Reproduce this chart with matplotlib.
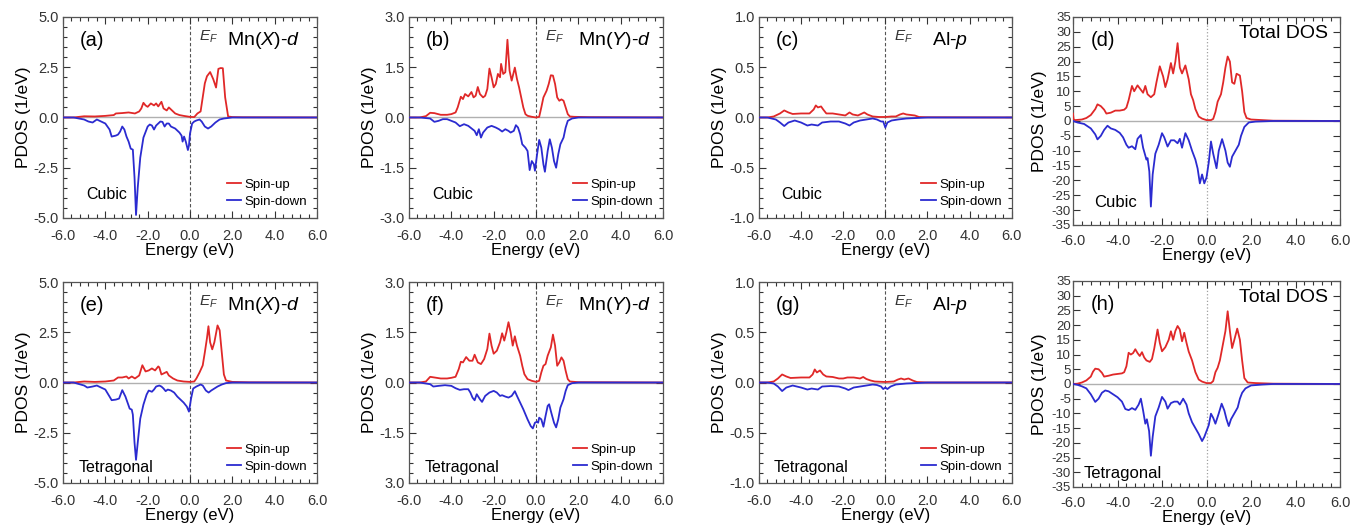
import matplotlib
matplotlib.use("Agg")
import matplotlib.pyplot as plt
from matplotlib.ticker import MultipleLocator

plt.rcParams['font.family'] = ['Liberation Sans', 'DejaVu Sans']
plt.rcParams['mathtext.fontset'] = 'custom'
plt.rcParams['mathtext.rm'] = 'Liberation Sans'
plt.rcParams['mathtext.it'] = 'Liberation Sans:italic'

RED = '#e02828'
BLUE = '#2b2bd0'

# ---- (a) Mn(X)-d, cubic ----
a_up_E = [-6.0, -5.5, -5.0, -4.5, -4.0, -3.6, -3.5, -3.2, -2.9, -2.6, -2.4, -2.3, -2.2, -2.1, -2.0, -1.85, -1.7, -1.6,
          -1.5, -1.35, -1.25, -1.1, -1.0, -0.85, -0.7, -0.5, -0.3, 0.0, 0.2, 0.35, 0.5, 0.6, 0.7, 0.8, 0.95, 1.1,
          1.23, 1.34, 1.45, 1.55, 1.66, 1.8, 2.0, 2.5, 6.0]
a_up = [0.0, 0.0, 0.06, 0.05, 0.08, 0.12, 0.2, 0.22, 0.25, 0.2, 0.3, 0.45, 0.73, 0.6, 0.53, 0.7, 0.6, 0.7,
        0.55, 0.78, 0.45, 0.35, 0.5, 0.35, 0.2, 0.12, 0.08, 0.03, 0.02, 0.2, 0.3, 1.0, 1.7, 2.05, 2.26, 1.9,
        1.49, 2.42, 2.46, 2.45, 1.0, 0.05, 0.02, 0.01, 0.0]
a_dn_E = [-6.0, -5.5, -5.0, -4.8, -4.6, -4.4, -4.2, -4.0, -3.8, -3.7, -3.5, -3.4, -3.3, -3.2, -3.1, -3.0, -2.9, -2.8,
          -2.7, -2.62, -2.55, -2.47, -2.35, -2.2, -2.0, -1.9, -1.8, -1.7, -1.6, -1.5, -1.4, -1.3, -1.2, -1.1, -1.0,
          -0.9, -0.8, -0.7, -0.6, -0.5, -0.4, -0.35, -0.28, -0.2, -0.1, -0.05, 0.0, 0.1, 0.2, 0.3, 0.45, 0.55,
          0.7, 0.85, 1.0, 1.1, 1.2, 1.4, 1.6, 2.0, 6.0]
a_dn = [0.0, 0.0, -0.1, -0.2, -0.25, -0.1, -0.2, -0.3, -0.6, -0.95, -0.9, -0.85, -0.7, -0.45, -0.6, -0.95, -1.2, -1.55,
        -1.6, -3.0, -4.85, -3.5, -2.0, -1.0, -0.45, -0.35, -0.4, -0.6, -0.4, -0.3, -0.2, -0.22, -0.45, -0.3, -0.3,
        -0.45, -0.5, -0.55, -0.65, -0.75, -0.9, -1.2, -0.95, -1.2, -1.62, -1.4, -0.8, -0.3, -0.2, -0.15, -0.1, -0.2,
        -0.45, -0.55, -0.45, -0.35, -0.25, -0.1, -0.05, 0.0, 0.0]

# ---- (b) Mn(Y)-d, cubic ----
b_up_E = [-6.0, -5.5, -5.2, -5.0, -4.8, -4.5, -4.2, -4.0, -3.8, -3.7, -3.55, -3.45, -3.35, -3.2, -3.05, -2.95, -2.85,
          -2.75, -2.65, -2.5, -2.4, -2.3, -2.2, -2.1, -2.0, -1.9, -1.8, -1.7, -1.65, -1.55, -1.45, -1.35, -1.25,
          -1.15, -1.0, -0.9, -0.8, -0.7, -0.6, -0.5, -0.4, -0.2, 0.0, 0.15, 0.25, 0.35, 0.5, 0.6, 0.7, 0.8, 0.9,
          1.0, 1.1, 1.2, 1.3, 1.4, 1.5, 1.6, 1.8, 2.5, 6.0]
b_up = [0.0, 0.0, 0.04, 0.14, 0.13, 0.08, 0.08, 0.1, 0.15, 0.3, 0.62, 0.55, 0.7, 0.63, 0.76, 0.6, 0.65,
        0.91, 0.7, 0.6, 0.65, 0.85, 1.46, 1.2, 0.9, 1.0, 1.3, 1.2, 1.6, 1.3, 1.35, 2.32, 1.4,
        1.1, 1.49, 1.15, 0.9, 0.6, 0.3, 0.1, 0.05, 0.02, 0.0, 0.02, 0.3, 0.6, 0.8, 1.0, 1.26, 1.25, 1.0,
        0.6, 0.5, 0.54, 0.5, 0.3, 0.1, 0.03, 0.02, 0.01, 0.0]
b_dn_E = [-6.0, -5.5, -5.0, -4.8, -4.6, -4.4, -4.2, -4.0, -3.8, -3.6, -3.4, -3.2, -3.0, -2.9, -2.8, -2.7, -2.6, -2.5,
          -2.3, -2.1, -1.9, -1.75, -1.6, -1.45, -1.3, -1.2, -1.05, -0.95, -0.85, -0.75, -0.65, -0.5, -0.4, -0.3,
          -0.2, -0.1, -0.05, 0.05, 0.15, 0.25, 0.35, 0.42, 0.55, 0.65, 0.75, 0.85, 0.95, 1.05, 1.15, 1.3, 1.4,
          1.5, 1.7, 2.0, 6.0]
b_dn = [0.0, 0.0, -0.03, -0.13, -0.1, -0.05, -0.05, -0.1, -0.15, -0.26, -0.2, -0.25, -0.35, -0.4, -0.53, -0.35, -0.6, -0.45,
        -0.3, -0.25, -0.3, -0.35, -0.42, -0.35, -0.4, -0.45, -0.4, -0.23, -0.3, -0.5, -0.8, -0.9, -1.0, -1.57,
        -1.3, -1.4, -1.59, -1.1, -0.67, -0.9, -1.4, -1.62, -1.0, -0.65, -0.9, -1.3, -1.5, -1.1, -0.8, -0.6, -0.3,
        -0.1, -0.03, 0.0, 0.0]

# ---- (c) Al-p, cubic ----
c_up_E = [-6.0, -5.6, -5.3, -5.0, -4.8, -4.6, -4.4, -4.0, -3.6, -3.4, -3.3, -3.2, -3.05, -2.95, -2.8, -2.5, -2.2, -1.9,
          -1.7, -1.55, -1.3, -1.0, -0.85, -0.6, -0.3, 0.0, 0.3, 0.5, 0.7, 0.85, 1.0, 1.2, 1.4, 1.6, 2.0, 6.0]
c_up = [0.0, 0.0, 0.01, 0.04, 0.07, 0.05, 0.035, 0.04, 0.04, 0.08, 0.12, 0.1, 0.11, 0.08, 0.04, 0.04, 0.03, 0.02,
        0.05, 0.03, 0.02, 0.05, 0.03, 0.01, 0.005, 0.005, 0.01, 0.01, 0.03, 0.04, 0.03, 0.025, 0.02, 0.005, 0.002, 0.0]
c_dn_E = [-6.0, -5.6, -5.2, -5.0, -4.8, -4.6, -4.3, -4.0, -3.7, -3.5, -3.2, -3.0, -2.6, -2.2, -1.9, -1.7, -1.5, -1.2,
          -0.9, -0.6, -0.4, -0.2, -0.1, 0.0, 0.1, 0.3, 0.6, 1.0, 1.5, 2.0, 6.0]
c_dn = [0.0, 0.0, -0.02, -0.05, -0.085, -0.05, -0.03, -0.05, -0.08, -0.07, -0.08, -0.05, -0.04, -0.04, -0.06, -0.08, -0.05, -0.03,
        -0.02, -0.01, -0.02, -0.04, -0.04, -0.1, -0.05, -0.03, -0.02, -0.01, -0.005, 0.0, 0.0]

# ---- (d) total DOS, cubic ----
d_up_E = [-6.0, -5.97, -5.9, -5.6, -5.4, -5.2, -5.0, -4.9, -4.75, -4.6, -4.5, -4.3, -4.1, -3.9, -3.7, -3.6, -3.5, -3.35,
          -3.25, -3.1, -2.95, -2.85, -2.75, -2.65, -2.5, -2.35, -2.25, -2.1, -1.95, -1.85, -1.75, -1.6, -1.5, -1.4,
          -1.3, -1.2, -1.1, -0.95, -0.8, -0.7, -0.6, -0.5, -0.35, -0.2, 0.0, 0.2, 0.3, 0.4, 0.5, 0.65, 0.75, 0.85,
          0.95, 1.05, 1.15, 1.25, 1.35, 1.5, 1.6, 1.7, 1.8, 2.0, 2.5, 3.0, 6.0]
d_up = [2.5, 0.5, 0.3, 0.5, 1.0, 2.0, 4.0, 5.6, 5.0, 3.8, 2.5, 2.8, 3.5, 3.5, 3.8, 4.5, 7.0, 11.8,
        10.0, 12.0, 10.5, 9.5, 11.8, 9.0, 8.0, 9.0, 13.0, 18.4, 15.0, 11.4, 14.0, 19.5, 16.0, 20.0,
        26.2, 18.0, 16.0, 18.7, 14.0, 9.0, 7.0, 4.0, 1.5, 0.8, 0.3, 0.3, 0.7, 3.0, 6.5, 9.0, 13.0, 18.0,
        21.7, 20.0, 13.0, 12.5, 15.9, 15.3, 10.0, 3.0, 1.0, 0.5, 0.3, 0.1, 0.0]
d_dn_E = [-6.0, -5.8, -5.5, -5.2, -5.0, -4.9, -4.75, -4.6, -4.45, -4.3, -4.1, -3.9, -3.75, -3.6, -3.5, -3.35, -3.2,
          -3.1, -2.95, -2.85, -2.7, -2.65, -2.57, -2.5, -2.42, -2.3, -2.15, -2.0, -1.9, -1.75, -1.6, -1.45, -1.3,
          -1.2, -1.1, -0.95, -0.8, -0.65, -0.5, -0.4, -0.3, -0.2, -0.1, 0.0, 0.1, 0.2, 0.3, 0.45, 0.55, 0.7, 0.85,
          0.95, 1.05, 1.15, 1.3, 1.45, 1.55, 1.7, 1.9, 2.2, 3.0, 6.0]
d_dn = [0.0, -0.5, -1.0, -2.5, -4.5, -6.2, -5.0, -3.0, -1.6, -2.5, -3.0, -4.0, -5.5, -8.0, -9.0, -8.5, -9.5,
        -6.0, -4.7, -9.0, -13.0, -12.5, -17.0, -28.8, -18.0, -11.0, -8.0, -4.1, -5.5, -8.6, -6.5, -6.5, -7.5,
        -6.0, -9.0, -4.1, -6.5, -10.0, -13.0, -16.0, -21.0, -18.0, -21.0, -19.0, -14.0, -6.9, -11.0, -15.9, -10.0, -6.1, -10.0,
        -14.0, -15.4, -12.0, -10.0, -8.0, -5.0, -2.0, -0.5, -0.2, 0.0, 0.0]

# ---- (e) Mn(X)-d, tetragonal ----
e_up_E = [-6.0, -5.5, -5.0, -4.5, -4.0, -3.6, -3.4, -3.2, -3.0, -2.9, -2.75, -2.6, -2.4, -2.25, -2.1, -1.95, -1.8,
          -1.65, -1.5, -1.45, -1.35, -1.25, -1.1, -1.0, -0.8, -0.6, -0.3, 0.0, 0.2, 0.3, 0.45, 0.6, 0.7, 0.8, 0.87,
          0.95, 1.05, 1.15, 1.3, 1.4, 1.5, 1.6, 1.7, 2.0, 2.8, 6.0]
e_up = [0.0, 0.0, 0.05, 0.03, 0.05, 0.1, 0.25, 0.25, 0.3, 0.2, 0.3, 0.2, 0.35, 0.86, 0.55, 0.6, 0.7,
        0.6, 0.8, 0.75, 0.4, 0.45, 0.53, 0.35, 0.2, 0.1, 0.05, 0.03, 0.05, 0.2, 0.5, 0.85, 1.5, 2.2, 2.8,
        2.0, 1.65, 2.0, 2.84, 2.6, 1.5, 0.4, 0.1, 0.03, 0.01, 0.0]
e_dn_E = [-6.0, -5.5, -5.0, -4.85, -4.6, -4.4, -4.2, -4.0, -3.8, -3.7, -3.5, -3.35, -3.2, -3.05, -2.95, -2.85, -2.75,
          -2.7, -2.62, -2.55, -2.47, -2.35, -2.2, -2.05, -1.95, -1.8, -1.7, -1.6, -1.45, -1.35, -1.25, -1.15, -1.05,
          -0.9, -0.75, -0.6, -0.45, -0.3, -0.15, -0.05, 0.05, 0.15, 0.3, 0.5, 0.6, 0.75, 0.88, 1.0, 1.15, 1.3,
          1.5, 1.7, 2.0, 6.0]
e_dn = [0.0, 0.0, -0.15, -0.25, -0.2, -0.15, -0.25, -0.35, -0.7, -0.88, -0.85, -0.8, -0.38, -0.7, -1.0, -1.3, -1.35,
        -1.6, -3.0, -3.85, -3.0, -1.8, -1.1, -0.6, -0.4, -0.46, -0.35, -0.2, -0.15, -0.2, -0.3, -0.43, -0.35,
        -0.4, -0.5, -0.7, -0.85, -1.0, -1.2, -1.45, -0.8, -0.3, -0.2, -0.1, -0.15, -0.4, -0.5, -0.4, -0.3, -0.2,
        -0.1, -0.03, 0.0, 0.0]

# ---- (f) Mn(Y)-d, tetragonal ----
f_up_E = [-6.0, -5.5, -5.2, -5.0, -4.8, -4.5, -4.2, -4.0, -3.8, -3.65, -3.55, -3.45, -3.3, -3.15, -3.0, -2.9, -2.75,
          -2.6, -2.45, -2.3, -2.2, -2.1, -2.0, -1.85, -1.7, -1.6, -1.5, -1.4, -1.3, -1.2, -1.1, -1.0, -0.9, -0.75,
          -0.65, -0.55, -0.4, -0.2, 0.0, 0.15, 0.25, 0.35, 0.45, 0.55, 0.7, 0.8, 0.9, 1.0, 1.1, 1.2, 1.3, 1.4,
          1.5, 1.6, 2.0, 6.0]
f_up = [0.0, 0.0, 0.03, 0.17, 0.15, 0.12, 0.12, 0.14, 0.17, 0.4, 0.62, 0.6, 0.76, 0.65, 0.65, 0.83, 0.6,
        0.55, 0.7, 1.0, 1.46, 1.1, 0.86, 0.95, 1.2, 1.47, 1.25, 1.5, 1.8, 1.5, 1.1, 1.38, 1.1, 0.8,
        0.5, 0.25, 0.1, 0.05, 0.02, 0.05, 0.3, 0.5, 0.55, 0.8, 1.05, 1.43, 1.1, 0.5, 0.6, 0.75, 0.65, 0.35,
        0.1, 0.03, 0.01, 0.0]
f_dn_E = [-6.0, -5.5, -5.0, -4.85, -4.6, -4.3, -4.0, -3.8, -3.6, -3.4, -3.2, -3.1, -3.0, -2.9, -2.8, -2.65, -2.55,
          -2.4, -2.2, -2.0, -1.85, -1.7, -1.6, -1.45, -1.3, -1.15, -1.0, -0.9, -0.75, -0.6, -0.5, -0.4, -0.25,
          -0.15, -0.05, 0.05, 0.1, 0.15, 0.25, 0.35, 0.45, 0.55, 0.62, 0.72, 0.85, 0.95, 1.05, 1.15, 1.3, 1.4,
          1.5, 1.7, 2.0, 6.0]
f_dn = [0.0, 0.0, -0.05, -0.12, -0.1, -0.08, -0.1, -0.17, -0.22, -0.2, -0.2, -0.3, -0.45, -0.53, -0.35, -0.5, -0.58,
        -0.4, -0.3, -0.25, -0.3, -0.4, -0.38, -0.42, -0.45, -0.4, -0.26, -0.4, -0.6, -0.8, -0.95, -1.1, -1.3,
        -1.37, -1.2, -1.17, -1.2, -1.05, -1.1, -1.32, -1.0, -0.7, -0.65, -0.9, -1.2, -1.34, -1.1, -0.75, -0.5, -0.25,
        -0.08, -0.02, 0.0, 0.0]

# ---- (g) Al-p, tetragonal ----
g_up_E = [-6.0, -5.6, -5.3, -5.1, -4.9, -4.7, -4.5, -4.0, -3.6, -3.45, -3.35, -3.25, -3.1, -2.95, -2.8, -2.5, -2.2,
          -2.0, -1.8, -1.5, -1.2, -1.05, -0.9, -0.7, -0.5, 0.0, 0.4, 0.6, 0.75, 0.9, 1.1, 1.3, 1.5, 2.0, 6.0]
g_up = [0.0, 0.0, 0.01, 0.04, 0.08, 0.06, 0.045, 0.05, 0.05, 0.08, 0.13, 0.1, 0.12, 0.08, 0.06, 0.055, 0.04,
        0.04, 0.05, 0.05, 0.04, 0.055, 0.035, 0.02, 0.01, 0.005, 0.01, 0.03, 0.04, 0.03, 0.04, 0.02, 0.005, 0.0, 0.0]
g_dn_E = [-6.0, -5.6, -5.3, -5.1, -4.9, -4.7, -4.4, -4.0, -3.7, -3.5, -3.2, -3.0, -2.6, -2.2, -1.9, -1.75, -1.5, -1.2,
          -0.9, -0.6, -0.4, -0.2, -0.1, 0.0, 0.1, 0.25, 0.5, 1.0, 1.5, 2.0, 6.0]
g_dn = [0.0, 0.0, -0.01, -0.04, -0.085, -0.05, -0.03, -0.05, -0.07, -0.06, -0.07, -0.04, -0.035, -0.04, -0.06, -0.075, -0.05, -0.04,
        -0.03, -0.02, -0.025, -0.04, -0.065, -0.05, -0.065, -0.04, -0.02, -0.01, -0.005, 0.0, 0.0]

# ---- (h) total DOS, tetragonal ----
h_up_E = [-6.0, -5.8, -5.6, -5.4, -5.2, -5.1, -5.0, -4.85, -4.7, -4.6, -4.4, -4.2, -4.0, -3.8, -3.7, -3.6, -3.5, -3.4,
          -3.3, -3.2, -3.1, -3.0, -2.9, -2.8, -2.7, -2.55, -2.45, -2.35, -2.2, -2.1, -2.0, -1.85, -1.7, -1.6, -1.5,
          -1.4, -1.3, -1.2, -1.1, -1.0, -0.9, -0.8, -0.65, -0.5, -0.35, -0.2, 0.0, 0.2, 0.3, 0.4, 0.5, 0.6, 0.7,
          0.85, 0.95, 1.05, 1.15, 1.25, 1.38, 1.5, 1.6, 1.7, 1.85, 2.2, 3.0, 6.0]
h_up = [0.0, 0.1, 0.5, 1.2, 2.5, 4.2, 5.2, 5.0, 3.8, 2.5, 2.8, 3.2, 3.4, 3.6, 4.0, 6.0, 10.6, 10.0,
        10.5, 11.8, 10.5, 9.5, 10.8, 9.0, 8.0, 7.5, 8.5, 12.0, 18.5, 14.0, 11.1, 12.5, 15.0, 17.9, 15.0,
        18.0, 19.7, 18.5, 14.5, 17.4, 14.0, 11.0, 8.0, 4.0, 1.5, 0.8, 0.3, 0.3, 1.0, 4.0, 5.5, 8.0, 12.0,
        18.0, 24.7, 18.0, 12.2, 15.0, 18.8, 15.0, 8.0, 2.0, 0.5, 0.3, 0.1, 0.0]
h_dn_E = [-6.0, -5.8, -5.6, -5.4, -5.2, -5.0, -4.85, -4.7, -4.55, -4.4, -4.2, -4.0, -3.8, -3.65, -3.5, -3.35, -3.2,
          -3.05, -2.95, -2.85, -2.75, -2.68, -2.58, -2.5, -2.42, -2.3, -2.15, -2.0, -1.85, -1.75, -1.6, -1.45, -1.3,
          -1.2, -1.05, -0.9, -0.8, -0.65, -0.5, -0.35, -0.2, -0.1, 0.0, 0.1, 0.2, 0.3, 0.4, 0.55, 0.68, 0.8, 0.9,
          1.0, 1.1, 1.25, 1.4, 1.5, 1.6, 1.75, 2.0, 2.5, 3.0, 6.0]
h_dn = [0.0, -0.3, -0.8, -1.5, -3.5, -6.1, -5.0, -3.0, -2.2, -2.5, -3.5, -4.5, -6.0, -8.5, -8.9, -8.2, -8.8,
        -7.0, -5.0, -9.0, -13.5, -12.0, -16.0, -24.4, -18.0, -11.0, -8.0, -4.4, -6.0, -8.4, -6.5, -6.0, -6.0,
        -7.0, -5.0, -7.0, -10.0, -13.0, -15.0, -17.0, -19.4, -18.0, -16.0, -14.0, -10.1, -11.5, -13.5, -10.0, -6.7, -9.0, -12.0,
        -14.3, -12.0, -10.0, -8.0, -5.0, -3.0, -1.5, -0.5, -0.2, 0.0, 0.0]

panel_labels = ['(a)', '(b)', '(c)', '(d)', '(e)', '(f)', '(g)', '(h)']
orbital_labels = [r'Mn($\mathit{X}$)-$\mathit{d}$', r'Mn($\mathit{Y}$)-$\mathit{d}$', r'Al-$\mathit{p}$', 'Total DOS']
phase_labels = ['Cubic', 'Tetragonal']
y_limits = [(-5.0, 5.0), (-3.0, 3.0), (-1.0, 1.0), (-35, 35)]
y_majors = [2.5, 1.5, 0.5, 5]
y_minors = [0.5, 0.3, 0.1, 5]
f_ytick_labels = ['3.0', '1.5', '0.0', '-1.5', '3.0']

series = [(a_up_E, a_up, a_dn_E, a_dn), (b_up_E, b_up, b_dn_E, b_dn),
          (c_up_E, c_up, c_dn_E, c_dn), (d_up_E, d_up, d_dn_E, d_dn),
          (e_up_E, e_up, e_dn_E, e_dn), (f_up_E, f_up, f_dn_E, f_dn),
          (g_up_E, g_up, g_dn_E, g_dn), (h_up_E, h_up, h_dn_E, h_dn)]

fig = plt.figure(figsize=(13.66, 5.31), dpi=100)

# axes boxes in figure fractions
lefts = [0.0461, 0.2994, 0.5556, 0.7855]
widths = [0.186, 0.186, 0.185, 0.1955]
row_box = [(0.5895, 0.3785, 0.5763, 0.3917), (0.0904, 0.3785, 0.0829, 0.388)]

for i in range(8):
    row, col = divmod(i, 4)
    b_small, h_small, b_tot, h_tot = row_box[row]
    if col == 3:
        ax = fig.add_axes([lefts[col], b_tot, widths[col], h_tot])
    else:
        ax = fig.add_axes([lefts[col], b_small, widths[col], h_small])

    upE, up, dnE, dn = series[i]
    ax.axhline(0, color='#b0b0b0', lw=1.0, zorder=1)
    if col == 3:
        ax.axvline(0, color='#a0a0a0', lw=0.9, ls=':', zorder=1)
    else:
        ax.axvline(0, color='#555555', lw=0.8, ls=(0, (3, 2)), zorder=1)
    ax.plot(upE, up, color=RED, lw=1.3, label='Spin-up', zorder=3)
    ax.plot(dnE, dn, color=BLUE, lw=1.3, label='Spin-down', zorder=3)

    ax.set_xlim(-6, 6)
    ax.set_ylim(*y_limits[col])
    ax.xaxis.set_major_locator(MultipleLocator(2))
    ax.xaxis.set_minor_locator(MultipleLocator(0.4))
    ax.yaxis.set_major_locator(MultipleLocator(y_majors[col]))
    ax.yaxis.set_minor_locator(MultipleLocator(y_minors[col]))
    ax.xaxis.set_major_formatter(matplotlib.ticker.FormatStrFormatter('%.1f'))
    if col == 3:
        ax.yaxis.set_major_formatter(matplotlib.ticker.FormatStrFormatter('%d'))
        ax.tick_params(axis='y', labelsize=9.5, pad=1.5)
        ax.tick_params(axis='x', labelsize=10.5, pad=6.5)
    else:
        ax.yaxis.set_major_formatter(matplotlib.ticker.FormatStrFormatter('%.1f'))
        ax.tick_params(axis='y', labelsize=10.5, pad=3)
        ax.tick_params(axis='x', labelsize=10.5, pad=8)
    if i == 5:
        ax.set_yticks([3.0, 1.5, 0.0, -1.5, -3.0])
        ax.set_yticklabels(f_ytick_labels)

    ax.tick_params(which='both', direction='in', top=True, right=True, colors='#333333')
    ax.tick_params(which='major', length=5, width=0.8)
    ax.tick_params(which='minor', length=3, width=0.8)
    for sp in ax.spines.values():
        sp.set_color('#555555')
        sp.set_linewidth(0.9)

    ax.set_xlabel('Energy (eV)', fontsize=12, labelpad=0)
    ax.set_ylabel('PDOS (1/eV)', fontsize=12.5, labelpad=3 if col == 3 else 2)

    ax.text(0.065, 0.885, panel_labels[i], transform=ax.transAxes, fontsize=14.5, va='center', ha='left')
    if col == 3:
        ax.text(0.955, 0.92, orbital_labels[col], transform=ax.transAxes, fontsize=14, va='center', ha='right')
        ax.text(0.08 if row == 0 else 0.04, 0.11 if row == 0 else 0.065, phase_labels[row],
                transform=ax.transAxes, fontsize=12, va='center', ha='left')
    else:
        ax.text(0.535, 0.9, r'$\mathit{E}_{\mathit{F}}$', transform=ax.transAxes, fontsize=11,
                va='center', ha='left', color='#333333')
        ox = [0.645, 0.665, 0.684][col]
        ax.text(ox, 0.885, orbital_labels[col], transform=ax.transAxes, fontsize=14, va='center', ha='left')
        ax.text(0.09 if row == 0 else 0.06, 0.115 if row == 0 else 0.075, phase_labels[row],
                transform=ax.transAxes, fontsize=11.5, va='center', ha='left')
        ax.legend(loc='lower right', frameon=False, fontsize=9.5, handlelength=1.1, handletextpad=0.25,
                  labelspacing=0.36, borderaxespad=0.45, borderpad=0.3)

fig.savefig('out.png', dpi=100)
